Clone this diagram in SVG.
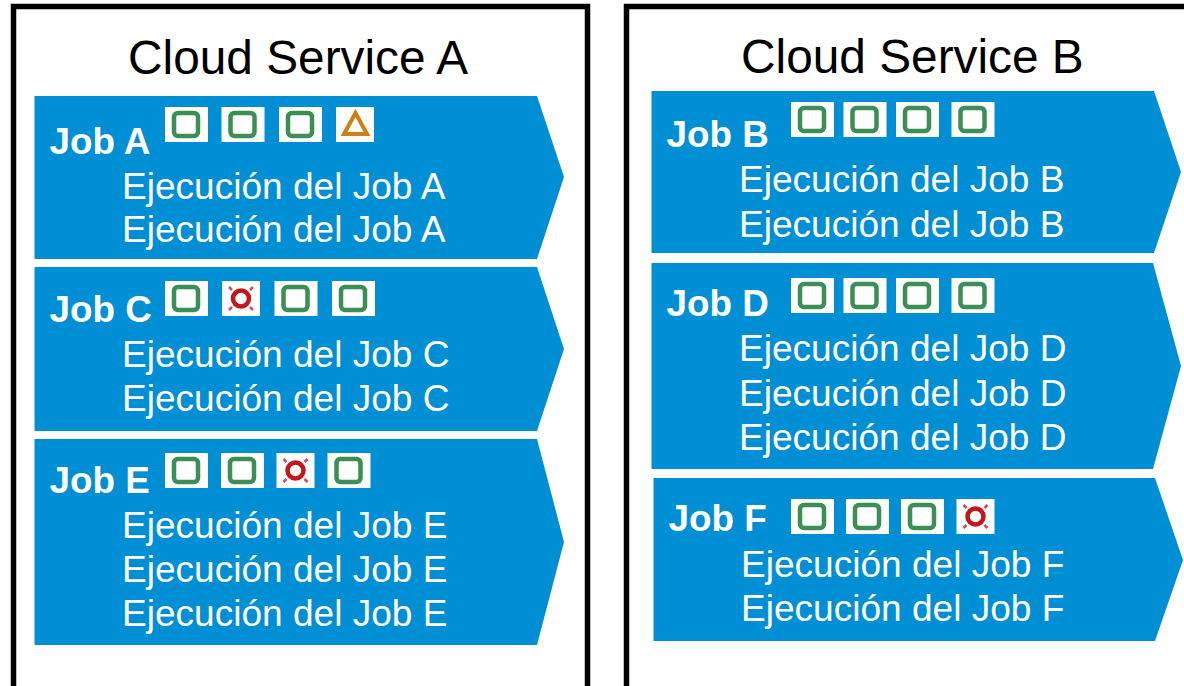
<svg xmlns="http://www.w3.org/2000/svg" width="1184" height="686" viewBox="0 0 1184 686">
<style>
text{font-family:"Liberation Sans",Arial,sans-serif}
.frame{fill:#fff;stroke:#000;stroke-width:5.5}
.title{font-size:47.800px;fill:#000}
.job{font-size:36.800px;font-weight:bold;fill:#fff}
.run{font-size:37.050px;fill:#fff}
.arrow{fill:#008fd5}
.bg{fill:#fff}
.ok{fill:none;stroke:#3a8f55;stroke-width:4.500;filter:url(#soft)}
.warn{fill:none;stroke:#cc8014;stroke-width:4;filter:url(#soft)}
.err{fill:none;stroke:#c4121c;stroke-width:4.500;filter:url(#soft)}
.errl{fill:none;stroke:#c4121c;stroke-width:2.500;opacity:.75;filter:url(#soft)}
</style>
<defs>
<filter id="soft" x="-30%" y="-30%" width="160%" height="160%"><feGaussianBlur stdDeviation="0.4"/></filter>
<g id="ok"><rect class="bg" x="-21.500" y="-17.500" width="43" height="35"/><rect class="ok" x="-12.500" y="-11.500" width="24" height="23" rx="4"/></g>
<g id="warn"><rect class="bg" x="-19" y="-17.500" width="38" height="35"/><path class="warn" d="M.5-11.500L12 9.500H-11Z"/></g>
<g id="err"><rect class="bg" x="-19" y="-17.500" width="38" height="35"/><circle class="err" cx="0" cy="0" r="8"/><path class="errl" d="M-12-11.500L-9-8.500M12-11.500L9-8.500M-12 11.500L-9 8.500M12 11.500L9 8.500"/></g>
</defs>
<g id="cloud-a"><rect class="frame" x="13.500" y="6.500" width="574" height="690"/><text class="title" x="128" y="74">Cloud Service A</text></g>
<g id="cloud-b"><rect class="frame" x="626.500" y="6.500" width="574" height="690"/><text class="title" x="741" y="73">Cloud Service B</text></g>
<g id="connectors"></g>
<g id="job-a"><path class="arrow" d="M34.500 96H537L564 177L537 259H34.500Z"/><text class="job" x="49.500" y="154">Job A</text><text class="run" x="122" y="199">Ejecución del Job A</text><text class="run" x="122" y="242">Ejecución del Job A</text>
<use href="#ok" x="186.500" y="124.500"/><use href="#ok" x="243" y="124.500"/><use href="#ok" x="300.500" y="124.500"/><use href="#warn" x="355" y="124.500"/></g>
<g id="job-c"><path class="arrow" d="M34.500 267H537L564 349L537 431H34.500Z"/><text class="job" x="49.500" y="322">Job C</text><text class="run" x="122" y="367">Ejecución del Job C</text><text class="run" x="122" y="411">Ejecución del Job C</text>
<use href="#ok" x="186.500" y="298.500"/><use href="#err" x="241" y="298.500"/><use href="#ok" x="296" y="298.500"/><use href="#ok" x="353.500" y="298.500"/></g>
<g id="job-e"><path class="arrow" d="M34.500 439H537L564 542L537 645H34.500Z"/><text class="job" x="49.500" y="493">Job E</text><text class="run" x="122" y="538">Ejecución del Job E</text><text class="run" x="122" y="582">Ejecución del Job E</text><text class="run" x="122" y="626">Ejecución del Job E</text>
<use href="#ok" x="186.500" y="470.500"/><use href="#ok" x="242.500" y="470.500"/><use href="#err" x="295.500" y="470.500"/><use href="#ok" x="349" y="470.500"/></g>
<g id="job-b"><path class="arrow" d="M651.500 91H1154L1181 172L1154 253H651.500Z"/><text class="job" x="666.500" y="147">Job B</text><text class="run" x="739" y="192">Ejecución del Job B</text><text class="run" x="739" y="237">Ejecución del Job B</text>
<use href="#ok" x="812.500" y="119.500"/><use href="#ok" x="865" y="119.500"/><use href="#ok" x="917.500" y="119.500"/><use href="#ok" x="973" y="119.500"/></g>
<g id="job-d"><path class="arrow" d="M651.500 263H1153L1181 366L1153 469H651.500Z"/><text class="job" x="666.500" y="316">Job D</text><text class="run" x="739" y="361">Ejecución del Job D</text><text class="run" x="739" y="406">Ejecución del Job D</text><text class="run" x="739" y="450">Ejecución del Job D</text>
<use href="#ok" x="812.500" y="295.500"/><use href="#ok" x="865" y="295.500"/><use href="#ok" x="917.500" y="295.500"/><use href="#ok" x="973" y="295.500"/></g>
<g id="job-f"><path class="arrow" d="M653.500 478H1155L1183 560L1155 641H653.500Z"/><text class="job" x="668.500" y="531">Job F</text><text class="run" x="741" y="577">Ejecución del Job F</text><text class="run" x="741" y="621">Ejecución del Job F</text>
<use href="#ok" x="812.500" y="516.500"/><use href="#ok" x="867.500" y="516.500"/><use href="#ok" x="922.500" y="516.500"/><use href="#err" x="975.500" y="516.500"/></g>
</svg>
